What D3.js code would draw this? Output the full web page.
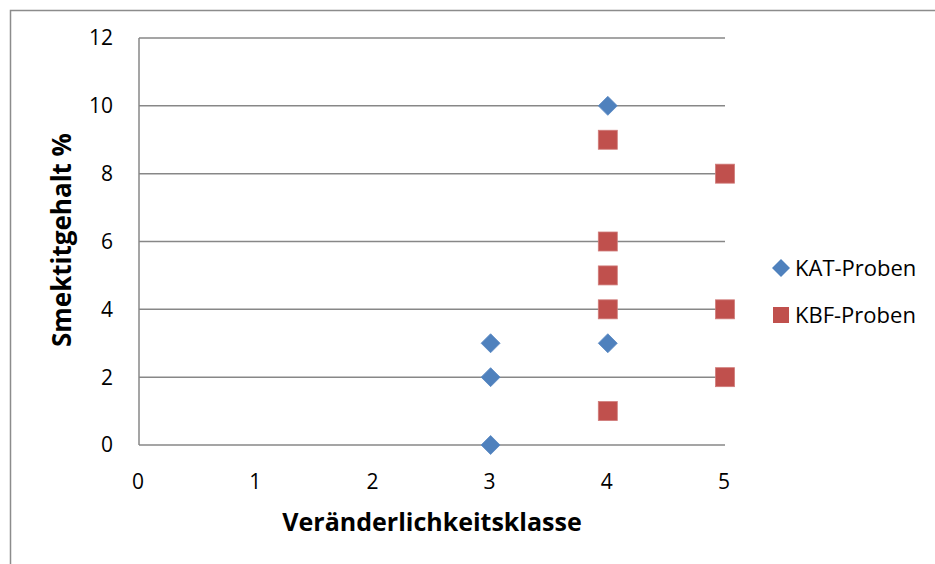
<!DOCTYPE html>
<html>
<head>
<meta charset="utf-8">
<script src="https://cdn.jsdelivr.net/npm/d3@7"></script>
<style>
  body { margin: 0; background: #fff; }
  text { font-family: "Open Sans", "Noto Sans", sans-serif; fill: #000; }
</style>
</head>
<body>
<div id="chart"></div>
<script>
// Smektitgehalt vs. Veränderlichkeitsklasse

var width = 935;
var height = 564;

// data
var katX = [3, 3, 3, 4, 4];
var katY = [0, 2, 3, 3, 10];
var kbfX = [4, 4, 4, 4, 4, 5, 5, 5];
var kbfY = [9, 6, 5, 4, 1, 8, 4, 2];
var xTicks = [0, 1, 2, 3, 4, 5];
var yTicks = [0, 2, 4, 6, 8, 10, 12];
var seriesNames = ["KAT-Proben", "KBF-Proben"];

var blue = "#4f81bd";
var red = "#c0504d";

var svg = d3.select("#chart")
            .append("svg")
            .attr("width", width)
            .attr("height", height);

// outer frame (runs off the right and bottom edges)
svg.append("rect")
   .attr("x", 10.5).attr("y", 10.5)
   .attr("width", 940).attr("height", 570)
   .attr("fill", "none")
   .attr("stroke", "#8c8c8c")
   .attr("stroke-width", 1.5);

var x = d3.scaleLinear().domain([0, 5]).range([139, 725]);
var y = d3.scaleLinear().domain([0, 12]).range([445, 38]);

// gridlines
svg.append("g")
   .selectAll("line")
   .data(yTicks)
   .enter()
   .append("line")
   .attr("x1", x(0)).attr("x2", x(5))
   .attr("y1", function(d) { return y(d); })
   .attr("y2", function(d) { return y(d); })
   .attr("stroke", "#878787")
   .attr("stroke-width", 1.5);

// y axis line
svg.append("line")
   .attr("x1", x(0)).attr("x2", x(0))
   .attr("y1", y(0)).attr("y2", y(12))
   .attr("stroke", "#878787")
   .attr("stroke-width", 1.5);

// y tick labels
svg.append("g")
   .selectAll("text")
   .data(yTicks)
   .enter()
   .append("text")
   .attr("x", 113)
   .attr("y", function(d) { return y(d); })
   .attr("dy", "0.35em")
   .attr("text-anchor", "end")
   .style("font-size", "21px")
   .text(function(d) { return d; });

// x tick labels
svg.append("g")
   .selectAll("text")
   .data(xTicks)
   .enter()
   .append("text")
   .attr("x", function(d) { return x(d) - 1; })
   .attr("y", 482)
   .attr("dy", "0.35em")
   .attr("text-anchor", "middle")
   .style("font-size", "21px")
   .text(function(d) { return d; });

// axis titles
svg.append("text")
   .attr("x", 432).attr("y", 522)
   .attr("dy", "0.35em")
   .attr("text-anchor", "middle")
   .style("font-size", "25px")
   .style("font-weight", "bold")
   .text("Veränderlichkeitsklasse");

svg.append("text")
   .attr("transform", "translate(62,240) rotate(-90)")
   .attr("dy", "0.35em")
   .attr("text-anchor", "middle")
   .style("font-size", "26px")
   .style("font-weight", "bold")
   .text("Smektitgehalt %");

var diamond = d3.symbol().type(d3.symbolSquare).size(180);

// KAT points (diamonds)
svg.append("g")
   .selectAll("path")
   .data(katX)
   .enter()
   .append("path")
   .attr("d", diamond)
   .attr("transform", function(d, i) { return "translate(" + x(d) + "," + y(katY[i]) + ") rotate(45)"; })
   .attr("fill", blue)
   .attr("stroke", "#5b8ac4")
   .attr("stroke-width", 0.8);

// KBF points (squares)
svg.append("g")
   .selectAll("rect")
   .data(kbfX)
   .enter()
   .append("rect")
   .attr("x", function(d) { return x(d) - 9.5; })
   .attr("y", function(d, i) { return y(kbfY[i]) - 9.5; })
   .attr("width", 19).attr("height", 19)
   .attr("fill", red)
   .attr("stroke", "#d07c7a")
   .attr("stroke-width", 0.8);

// legend
var legend = svg.append("g");
legend.append("path")
      .attr("d", d3.symbol().type(d3.symbolSquare).size(162))
      .attr("transform", "translate(781,268) rotate(45)")
      .attr("fill", blue);
legend.append("rect")
      .attr("x", 773).attr("y", 307)
      .attr("width", 16).attr("height", 16)
      .attr("fill", red);
legend.selectAll("text")
      .data(seriesNames)
      .enter()
      .append("text")
      .attr("x", 795)
      .attr("y", function(d, i) { return 268 + i * 47; })
      .attr("dy", "0.35em")
      .style("font-size", "22px")
      .text(function(d) { return d; });
</script>
</body>
</html>
